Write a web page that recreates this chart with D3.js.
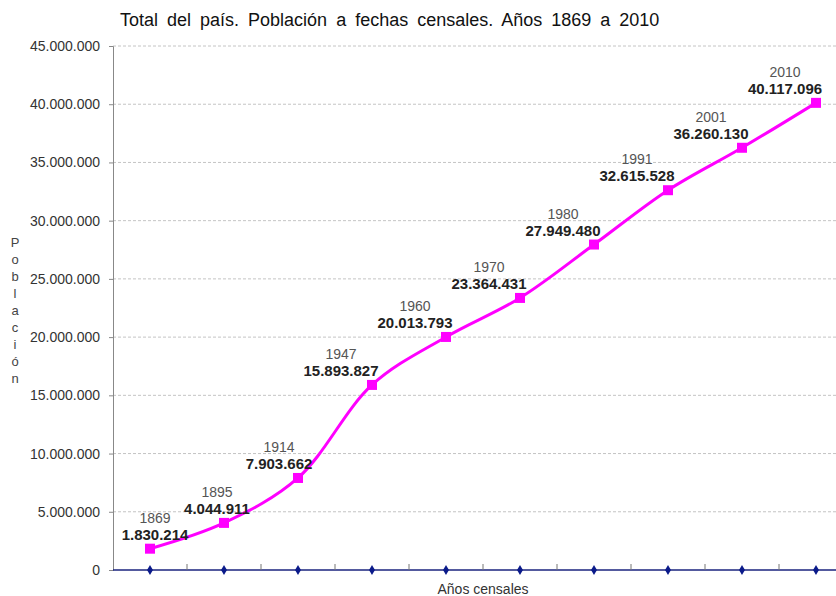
<!DOCTYPE html>
<html>
<head>
<meta charset="utf-8">
<script src="https://cdn.jsdelivr.net/npm/d3@7"></script>
<style>
  body { margin: 0; background: #fff; }
  svg { display: block; font-family: "Liberation Sans", Arial, sans-serif; }
</style>
</head>
<body>
<div id="chart"></div>
<script>
// Datos de los censos
const anios = ["1869", "1895", "1914", "1947", "1960", "1970", "1980", "1991", "2001", "2010"];
const poblacion = [1830214, 4044911, 7903662, 15893827, 20013793, 23364431, 27949480, 32615528, 36260130, 40117096];
const yTicks = [0, 5000000, 10000000, 15000000, 20000000, 25000000, 30000000, 35000000, 40000000, 45000000];

const width = 836, height = 596;
// el área del gráfico se sale un poco por la derecha, como en el original
const margin = { top: 46, right: -17, bottom: 26, left: 113 };

const svg = d3.select("#chart").append("svg")
    .attr("width", width)
    .attr("height", height);

const x = d3.scaleBand()
    .domain(anios)
    .range([margin.left, width - margin.right]);

const y = d3.scaleLinear()
    .domain([0, 45000000])
    .range([height - margin.bottom, margin.top]);

// formato con puntos de miles
const fmt = d => d3.format(",")(d).replace(/,/g, ".");
const cx = d => x(d) + x.bandwidth() / 2;

// Título
svg.append("text")
    .attr("x", 120)
    .attr("y", 26)
    .attr("font-size", "18px")
    .attr("fill", "#111")
    .attr("word-spacing", "4px")
    .text("Total del país. Población a fechas censales. Años 1869 a 2010");

// Líneas de guía
svg.append("g")
    .selectAll("line")
    .data(yTicks.filter(d => d > 0))
    .join("line")
    .attr("x1", margin.left)
    .attr("x2", width)
    .attr("y1", d => y(d))
    .attr("y2", d => y(d))
    .attr("stroke", "#c4c4c4")
    .attr("stroke-dasharray", "3,2");

// Eje Y
const yAxis = svg.append("g")
    .attr("transform", `translate(${margin.left},0)`)
    .call(d3.axisLeft(y).tickValues(yTicks).tickFormat(fmt).tickSize(4).tickPadding(9));
yAxis.select(".domain").attr("stroke", "#888");
yAxis.selectAll(".tick line").attr("stroke", "#888");
yAxis.selectAll(".tick text")
    .attr("font-size", "14px")
    .attr("fill", "#333")
    .attr("font-family", "Liberation Sans, Arial, sans-serif");

// Eje X (línea azul con marcas entre categorías)
const y0 = y(0);
svg.append("line")
    .attr("x1", margin.left)
    .attr("x2", width)
    .attr("y1", y0)
    .attr("y2", y0)
    .attr("stroke", "#1a237e")
    .attr("stroke-width", 1.5);

svg.append("g")
    .selectAll("line")
    .data(anios.slice(1))
    .join("line")
    .attr("x1", d => x(d))
    .attr("x2", d => x(d))
    .attr("y1", y0)
    .attr("y2", y0 - 6)
    .attr("stroke", "#777");

svg.append("g")
    .selectAll("path")
    .data(anios)
    .join("path")
    .attr("d", d3.symbol(d3.symbolDiamond, 30))
    .attr("transform", d => `translate(${cx(d)},${y0})`)
    .attr("fill", "#0a1a8a");

// Títulos de ejes
svg.append("text")
    .attr("x", (margin.left + width - margin.right) / 2)
    .attr("y", 594)
    .attr("text-anchor", "middle")
    .attr("font-size", "14px")
    .attr("fill", "#333")
    .text("Años censales");

const letras = "Población".split("");
svg.append("g")
    .selectAll("text")
    .data(letras)
    .join("text")
    .attr("x", 15)
    .attr("y", (d, i) => 247 + i * 17)
    .attr("text-anchor", "middle")
    .attr("font-size", "13px")
    .attr("fill", "#444")
    .text(d => d);

// Serie
const datos = anios.map((a, i) => ({ anio: a, valor: poblacion[i] }));

const line = d3.line()
    .x(d => cx(d.anio))
    .y(d => y(d.valor))
    .curve(d3.curveCatmullRom.alpha(0.5));

svg.append("path")
    .datum(datos)
    .attr("fill", "none")
    .attr("stroke", "#ff00ff")
    .attr("stroke-width", 3)
    .attr("d", line);

svg.append("g")
    .selectAll("rect")
    .data(datos)
    .join("rect")
    .attr("x", d => cx(d.anio) - 5)
    .attr("y", d => y(d.valor) - 5)
    .attr("width", 10)
    .attr("height", 10)
    .attr("fill", "#ff00ff");

// Etiquetas: arriba a la izquierda del punto, sin cruzar el eje Y
// ni pisar la etiqueta anterior
const posX = [];
datos.forEach((d, i) => {
    let px = Math.max(cx(d.anio) - 31, margin.left + 42);
    if (i > 0) px = Math.max(px, posX[i - 1] + 62);
    posX.push(px);
});

const etiquetas = svg.append("g").selectAll("g")
    .data(datos)
    .join("g")
    .attr("transform", (d, i) => `translate(${posX[i]},${y(d.valor) - 14})`);

etiquetas.append("text")
    .attr("text-anchor", "middle")
    .attr("y", -12)
    .attr("font-size", "14px")
    .attr("fill", "#555")
    .text(d => d.anio);

etiquetas.append("text")
    .attr("text-anchor", "middle")
    .attr("y", 5)
    .attr("font-size", "15px")
    .attr("font-weight", "bold")
    .attr("fill", "#222")
    .text(d => fmt(d.valor));
</script>
</body>
</html>
